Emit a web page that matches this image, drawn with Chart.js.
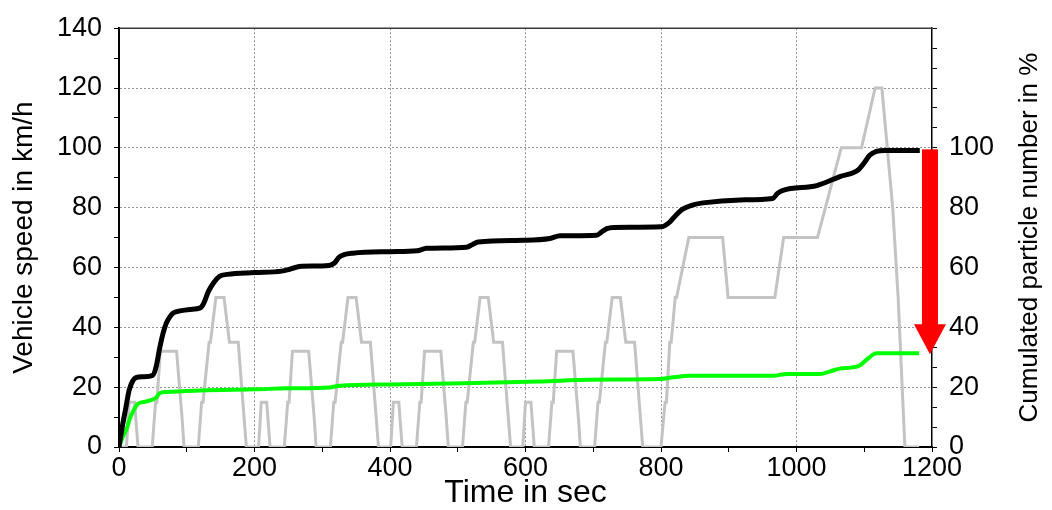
<!DOCTYPE html>
<html>
<head>
<meta charset="utf-8">
<script src="https://cdn.jsdelivr.net/npm/chart.js@4"></script>
<style>
  html, body { margin: 0; padding: 0; background: #fff; }
  #wrap { width: 1052px; height: 510px; }
</style>
</head>
<body>
<div id="wrap"><canvas id="grafico" width="1052" height="510"></canvas></div>
<script>
// ===== DATA =====
// driving cycle (NEDC), speed in km/h
const cycleTime = [
  0, 11, 15, 23, 28, 49, 54, 56, 61, 85, 93, 96, 117, 122, 124, 133, 135, 143, 155, 163, 176, 188,
  195, 206, 210, 218, 223, 244, 249, 251, 256, 280, 288, 291, 312, 317, 319, 328, 330, 338, 350, 358, 371, 383,
  390, 401, 405, 413, 418, 439, 444, 446, 451, 475, 483, 486, 507, 512, 514, 523, 525, 533, 545, 553, 566, 578,
  585, 596, 600, 608, 613, 634, 639, 641, 646, 670, 678, 681, 702, 707, 709, 718, 720, 728, 740, 748, 761, 773,
  780, 800, 806, 808, 813, 815, 821, 823, 841, 891, 899, 968, 981, 1031, 1066, 1096, 1116, 1126, 1142, 1150, 1160, 1181
];
const cycleSpeed = [
  0, 0, 15, 15, 0, 0, 15, 15, 32, 32, 10, 0, 0, 15, 15, 35, 35, 50, 50, 35, 35, 0,
  0, 0, 15, 15, 0, 0, 15, 15, 32, 32, 10, 0, 0, 15, 15, 35, 35, 50, 50, 35, 35, 0,
  0, 0, 15, 15, 0, 0, 15, 15, 32, 32, 10, 0, 0, 15, 15, 35, 35, 50, 50, 35, 35, 0,
  0, 0, 15, 15, 0, 0, 15, 15, 32, 32, 10, 0, 0, 15, 15, 35, 35, 50, 50, 35, 35, 0,
  0, 0, 15, 15, 35, 35, 50, 50, 70, 70, 50, 50, 70, 70, 100, 100, 120, 120, 80, 50, 0, 0
];

// cumulated particle number in % (black curve)
const blackTime = [
  0, 5, 10, 15, 20, 25, 35, 50, 55, 60, 65, 70, 75, 80, 90, 105, 120, 125, 132, 140, 148, 160,
  200, 240, 250, 260, 270, 310, 318, 325, 332, 345, 400, 440, 454, 513, 522, 530, 597, 636, 651,
  705, 712, 720, 730, 800, 812, 822, 832, 845, 862, 917, 965, 972, 980, 1030, 1064, 1091, 1100,
  1108, 1118, 1130, 1182
];
const blackPct = [
  0, 7, 13, 19, 22, 23.2, 23.5, 24, 27, 33, 38, 41.5, 43.5, 44.8, 45.5, 46, 46.5, 48, 52, 55, 57, 57.7,
  58.3, 58.8, 59.3, 60, 60.4, 60.7, 61.5, 63.5, 64.3, 64.8, 65.3, 65.6, 66.4, 66.8, 67.7, 68.5, 69.1, 69.7, 70.6,
  70.8, 71.8, 73, 73.4, 73.6, 75, 77.5, 79.5, 80.8, 81.6, 82.6, 83.1, 84.8, 85.8, 87.4, 90.4, 92.6, 95,
  97.5, 98.8, 99.1, 99.1
];

// cumulated particle number in % (green curve)
const greenTime = [
  0, 5, 12, 16, 21, 26, 31, 40, 50, 55, 60, 70, 120, 203, 248, 311, 326, 400, 508, 621, 695, 798,
  815, 843, 965, 986, 1035, 1050, 1064, 1091, 1105, 1118, 1181
];
const greenPct = [
  0, 3, 6.5, 9.5, 12, 14, 14.8, 15.2, 15.9, 16.5, 18, 18.4, 18.9, 19.3, 19.6, 19.9, 20.5, 20.9, 21.3, 21.9, 22.5, 22.7,
  23.2, 23.8, 23.8, 24.4, 24.4, 25.3, 26.2, 27, 29.5, 31.3, 31.3
];

// reduction arrow (time position, from %, to %)
const arrowTime = 1197;
const arrowFrom = 99.5;
const arrowTo = 31;

const xLabelStep = 200;
const leftLabelStep = 20;
const rightLabelStep = 20;
const rightLabelMax = 100;

// ===== HELPERS =====
function pares(xs, ys) {
  return xs.map((x, i) => ({ x: x, y: ys[i] }));
}

const FONTE = "'Liberation Sans', Arial, sans-serif";
const GRADE = '#929292';
const SEM_COR = 'rgba(0,0,0,0)';

// top frame + right title + red arrow
const extras = {
  id: 'extras',
  afterDatasetsDraw(chart) {
    const c = chart.ctx;
    const a = chart.chartArea;
    const sx = chart.scales.x;
    const sy = chart.scales.y2;

    // top border
    c.save();
    c.strokeStyle = '#3a3a3a';
    c.lineWidth = 1.5;
    c.beginPath();
    c.moveTo(a.left, a.top);
    c.lineTo(a.right, a.top);
    c.stroke();

    // arrow
    const ax = sx.getPixelForValue(arrowTime);
    const y0 = sy.getPixelForValue(arrowFrom);
    const y1 = sy.getPixelForValue(arrowTo);
    const head = 30;
    c.fillStyle = '#ff0000';
    c.fillRect(ax - 8, y0, 16, (y1 - head) - y0 + 1);
    c.beginPath();
    c.moveTo(ax - 16, y1 - head);
    c.lineTo(ax + 16, y1 - head);
    c.lineTo(ax, y1);
    c.closePath();
    c.fill();

    // right axis title
    c.fillStyle = '#000';
    c.font = '26px ' + FONTE;
    c.textAlign = 'center';
    c.textBaseline = 'middle';
    c.translate(1030, (a.top + a.bottom) / 2);
    c.rotate(-Math.PI / 2);
    c.fillText('Cumulated particle number in %', 0, 0);
    c.restore();
  }
};

const ctx = document.getElementById('grafico').getContext('2d');

const grafico = new Chart(ctx, {
  type: 'line',
  data: {
    datasets: [
      {
        label: 'particles A',
        data: pares(blackTime, blackPct),
        yAxisID: 'y2',
        borderColor: '#000000',
        borderWidth: 5,
        pointRadius: 0,
        cubicInterpolationMode: 'monotone',
        order: 0
      },
      {
        label: 'particles B',
        data: pares(greenTime, greenPct),
        yAxisID: 'y2',
        borderColor: '#00ff00',
        borderWidth: 4,
        pointRadius: 0,
        cubicInterpolationMode: 'monotone',
        order: 1
      },
      {
        label: 'speed',
        data: pares(cycleTime, cycleSpeed),
        yAxisID: 'y',
        borderColor: '#c3c3c3',
        borderWidth: 3,
        pointRadius: 0,
        tension: 0,
        order: 2
      }
    ]
  },
  options: {
    responsive: false,
    animation: false,
    devicePixelRatio: 1,
    layout: { padding: { top: 18, left: 0, right: 0, bottom: 0 } },
    plugins: {
      legend: { display: false },
      tooltip: { enabled: false }
    },
    scales: {
      x: {
        type: 'linear',
        min: 0,
        max: 1200,
        afterFit(s) { s.height = 63; },
        ticks: {
          stepSize: 100,
          autoSkip: false,
          maxRotation: 0,
          padding: 0,
          color: '#000',
          font: { family: FONTE, size: 27 },
          callback: v => (v % xLabelStep === 0 ? v : '')
        },
        grid: {
          color: c => (c.tick && c.tick.value % xLabelStep === 0 && c.tick.value > 0 && c.tick.value < 1200 ? GRADE : SEM_COR),
          lineWidth: 1,
          tickColor: '#000',
          tickLength: 5,
          tickWidth: 1
        },
        border: { color: '#000', width: 2, dash: [2, 2] },
        title: {
          display: true,
          text: 'Time in sec',
          color: '#000',
          font: { family: FONTE, size: 32, lineHeight: 1 },
          padding: { top: 0, bottom: 1 }
        }
      },
      y: {
        position: 'left',
        min: 0,
        max: 140,
        afterFit(s) { s.width = 119; },
        ticks: {
          stepSize: 10,
          autoSkip: false,
          padding: 12,
          color: '#000',
          font: { family: FONTE, size: 27 },
          callback: v => (v % leftLabelStep === 0 ? v : '')
        },
        grid: {
          color: c => (c.tick && c.tick.value % leftLabelStep === 0 && c.tick.value > 0 && c.tick.value < 140 ? GRADE : SEM_COR),
          lineWidth: 1,
          tickColor: '#000',
          tickLength: 5,
          tickWidth: 1
        },
        border: { color: '#000', width: 2, dash: [2, 2] },
        title: {
          display: true,
          text: 'Vehicle speed in km/h',
          color: '#000',
          font: { family: FONTE, size: 28, lineHeight: 1.2 },
          padding: { top: 7, bottom: 0 }
        }
      },
      y2: {
        position: 'right',
        min: 0,
        max: 140,
        afterFit(s) { s.width = 120; },
        afterBuildTicks(s) {
          const t = [];
          for (let i = 0; i <= 21; i++) t.push({ value: i * rightLabelStep / 3 });
          s.ticks = t;
        },
        ticks: {
          autoSkip: false,
          padding: 12,
          color: '#000',
          font: { family: FONTE, size: 27 },
          callback: v => {
            const r = Math.round(v * 1000) / 1000;
            return (r % rightLabelStep === 0 && r <= rightLabelMax) ? r : '';
          }
        },
        grid: {
          drawOnChartArea: false,
          tickColor: '#000',
          tickLength: 5,
          tickWidth: 1
        },
        border: { color: '#000', width: 1.5 }
      }
    }
  },
  plugins: [extras]
});
</script>
</body>
</html>
